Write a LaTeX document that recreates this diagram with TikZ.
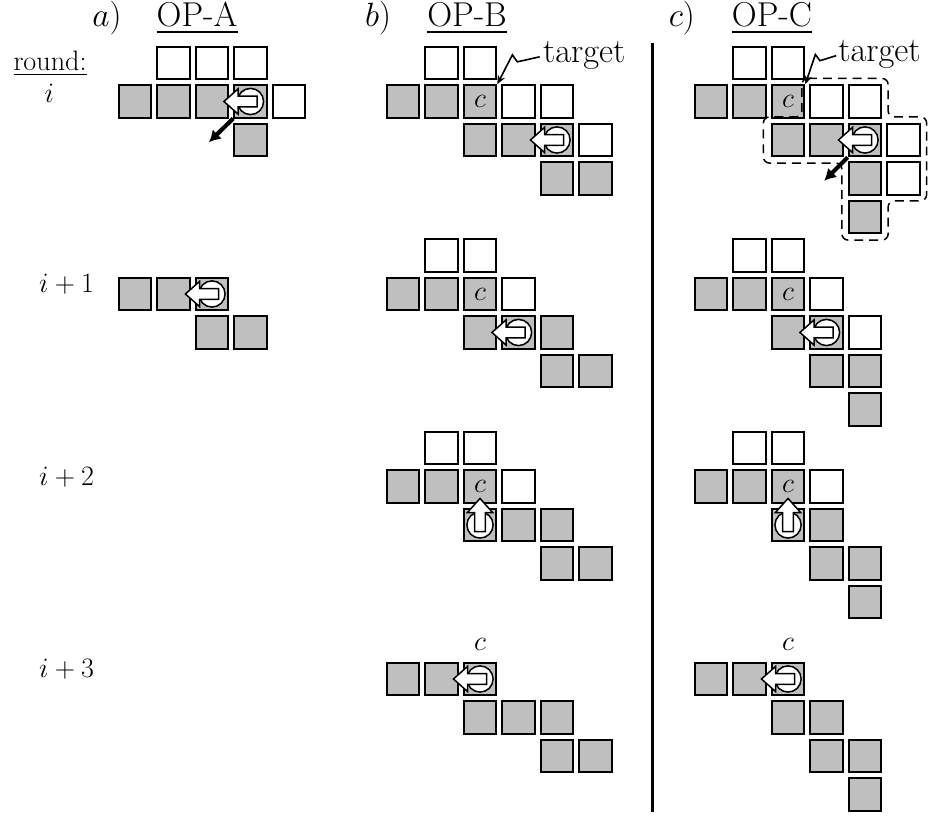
\documentclass[tikz,border=0pt]{standalone}
\usepackage{amsmath, amssymb}
\usepackage{fontspec}
\usepackage[dvipsnames]{xcolor}
\usepackage{tikz}
\usetikzlibrary{positioning, arrows.meta}

\tikzset{robot/.pic={
    \draw[line width=1.1pt, fill=white] (0,0) circle (0.34);
    \draw[line width=1.1pt, fill=white, line join=miter] (0.17,0.14) -- (-0.32,0.14) -- (-0.32,0.33) -- (-0.69,0) -- (-0.32,-0.33) -- (-0.32,-0.14) -- (0.17,-0.14) -- cycle;
}}

\begin{document}
\begin{tikzpicture}[cellw/.style={rectangle, draw=black, fill=white, line width=1.4pt, minimum size=0.85cm, inner sep=0pt, font=\fontsize{22}{26}\selectfont}, cellg/.style={cellw, fill=black!25}, head/.style={font=\fontsize{25.5}{30}\selectfont, inner sep=0pt, anchor=base}, roundlbl/.style={font=\fontsize{20.8}{25}\selectfont, inner sep=0pt, anchor=base}, ctxt/.style={font=\fontsize{22}{26}\selectfont, inner sep=0pt}, movearrow/.style={-{Latex[length=3mm, width=3.4mm]}, line width=3.1pt}, tgtarrow/.style={-{Stealth[length=2.3mm, width=2mm]}, line width=1.2pt}, outline/.style={dash pattern=on 6.6pt off 4.4pt, line width=1.1pt, rounded corners=0.16cm}]

    \useasboundingbox (0,0) rectangle (24.104,-21.195);

    % Headings
    \node[head] (alab)  at (2.78,-0.69)  {$a)$};
    \node[head] (opa)   at (5.12,-0.69)  {\underline{OP-A}};
    \node[head] (blab)  at (9.82,-0.69)  {$b)$};
    \node[head] (opb)   at (12.13,-0.69) {\underline{OP-B}};
    \node[head] (clab)  at (17.71,-0.69) {$c)$};
    \node[head] (opc)   at (20.05,-0.69) {\underline{OP-C}};

    % Rounds
    \node[roundlbl] (roundhead) at (1.30,-1.82) {\underline{round:}};
    \node[roundlbl] (r0) at (1.28,-2.675) {$i$};
    \node[roundlbl, anchor=base west] (r1) at (1.01,-7.61)  {$i+1$};
    \node[roundlbl, anchor=base west] (r2) at (1.01,-12.61) {$i+2$};
    \node[roundlbl, anchor=base west] (r3) at (1.01,-17.61) {$i+3$};

    % OP-A, round i ---------------
    \begin{scope}[shift={(3.506,-1.636)}]
        \foreach \j in {1,2,3} \node[cellw] (a0-0-\j) at (\j,0) {};
        \foreach \j in {0,...,3} \node[cellg] (a0-1-\j) at (\j,-1) {};
        \node[cellw] (a0-1-4) at (4,-1) {};
        \node[cellg] (a0-2-3) at (3,-2) {};
        \coordinate (a0move) at ([shift={(-1.08,-1.06)}]a0-1-3.center);
        \draw[movearrow] (a0-1-3) -- (a0move);
        \pic at (a0-1-3) {robot};
    \end{scope}

    % OP-A, round i+1
    \begin{scope}[shift={(3.506,-6.636)}]
        \foreach \j in {0,1,2} \node[cellg] (a1-1-\j) at (\j,-1) {};
        \foreach \j in {2,3} \node[cellg] (a1-2-\j) at (\j,-2) {};
        \pic at (a1-1-2) {robot};
    \end{scope}

    % OP-B, round i ---------------
    \begin{scope}[shift={(10.468,-1.636)}]
        \foreach \j in {1,2} \node[cellw] (b0-0-\j) at (\j,0) {};
        \foreach \j in {0,1} \node[cellg] (b0-1-\j) at (\j,-1) {};
        \node[cellg] (b0-1-2) at (2,-1) {$c$};
        \foreach \j in {3,4} \node[cellw] (b0-1-\j) at (\j,-1) {};
        \foreach \j in {2,3,4} \node[cellg] (b0-2-\j) at (\j,-2) {};
        \node[cellw] (b0-2-5) at (5,-2) {};
        \foreach \j in {4,5} \node[cellg] (b0-3-\j) at (\j,-3) {};
        \pic at (b0-2-4) {robot};
        \node[head, anchor=base west] (tgtb) at (3.63,0) {target};
        \draw[tgtarrow] ([shift={(-0.08,0.16)}]tgtb.base west) -- ++(-0.58,-0.13) -- ++(-0.13,0.18) -- (b0-1-2.north east);
    \end{scope}

    % OP-B, round i+1
    \begin{scope}[shift={(10.468,-6.636)}]
        \foreach \j in {1,2} \node[cellw] (b1-0-\j) at (\j,0) {};
        \foreach \j in {0,1} \node[cellg] (b1-1-\j) at (\j,-1) {};
        \node[cellg] (b1-1-2) at (2,-1) {$c$};
        \node[cellw] (b1-1-3) at (3,-1) {};
        \foreach \j in {2,3,4} \node[cellg] (b1-2-\j) at (\j,-2) {};
        \foreach \j in {4,5} \node[cellg] (b1-3-\j) at (\j,-3) {};
        \pic at (b1-2-3) {robot};
    \end{scope}

    % OP-B, round i+2
    \begin{scope}[shift={(10.468,-11.636)}]
        \foreach \j in {1,2} \node[cellw] (b2-0-\j) at (\j,0) {};
        \foreach \j in {0,1} \node[cellg] (b2-1-\j) at (\j,-1) {};
        \node[cellg] (b2-1-2) at (2,-1) {$c$};
        \node[cellw] (b2-1-3) at (3,-1) {};
        \foreach \j in {2,3,4} \node[cellg] (b2-2-\j) at (\j,-2) {};
        \foreach \j in {4,5} \node[cellg] (b2-3-\j) at (\j,-3) {};
        \pic[rotate=-90] at (b2-2-2) {robot};
    \end{scope}

    % OP-B, round i+3
    \begin{scope}[shift={(10.468,-16.636)}]
        \node[ctxt] (b3-c) at (2,-0.1) {$c$};
        \foreach \j in {0,1,2} \node[cellg] (b3-1-\j) at (\j,-1) {};
        \foreach \j in {2,3,4} \node[cellg] (b3-2-\j) at (\j,-2) {};
        \foreach \j in {4,5} \node[cellg] (b3-3-\j) at (\j,-3) {};
        \pic at (b3-1-2) {robot};
    \end{scope}

    % Separator
    \draw[line width=2.2pt] (16.96,-1.12) -- (16.96,-21.09);

    % OP-C, round i ---------------
    \begin{scope}[shift={(18.468,-1.636)}]
        \foreach \j in {1,2} \node[cellw] (c0-0-\j) at (\j,0) {};
        \foreach \j in {0,1} \node[cellg] (c0-1-\j) at (\j,-1) {};
        \node[cellg] (c0-1-2) at (2,-1) {$c$};
        \foreach \j in {3,4} \node[cellw] (c0-1-\j) at (\j,-1) {};
        \foreach \j in {2,3,4} \node[cellg] (c0-2-\j) at (\j,-2) {};
        \node[cellw] (c0-2-5) at (5,-2) {};
        \node[cellg] (c0-3-4) at (4,-3) {};
        \node[cellw] (c0-3-5) at (5,-3) {};
        \node[cellg] (c0-4-4) at (4,-4) {};
        \draw[outline] (2.36,-0.40) -- (4.60,-0.40) -- (4.60,-1.40) -- (5.60,-1.40) -- (5.60,-3.58) -- (4.60,-3.58) -- (4.60,-4.60) -- (3.40,-4.60) -- (3.40,-2.60) -- (1.36,-2.60) -- (1.36,-1.40) -- (2.36,-1.40) -- cycle;
        \coordinate (c0move) at ([shift={(-1.06,-1.06)}]c0-2-4.center);
        \draw[movearrow] (c0-2-4) -- (c0move);
        \pic at (c0-2-4) {robot};
        \node[head, anchor=base west] (tgtc) at (3.30,0.03) {target};
        \draw[tgtarrow] ([shift={(-0.05,0.16)}]tgtc.base west) -- ++(-0.42,-0.13) -- ++(-0.12,0.16) -- (c0-1-2.north east);
    \end{scope}

    % OP-C, round i+1
    \begin{scope}[shift={(18.468,-6.636)}]
        \foreach \j in {1,2} \node[cellw] (c1-0-\j) at (\j,0) {};
        \foreach \j in {0,1} \node[cellg] (c1-1-\j) at (\j,-1) {};
        \node[cellg] (c1-1-2) at (2,-1) {$c$};
        \node[cellw] (c1-1-3) at (3,-1) {};
        \foreach \j in {2,3} \node[cellg] (c1-2-\j) at (\j,-2) {};
        \node[cellw] (c1-2-4) at (4,-2) {};
        \foreach \j in {3,4} \node[cellg] (c1-3-\j) at (\j,-3) {};
        \node[cellg] (c1-4-4) at (4,-4) {};
        \pic at (c1-2-3) {robot};
    \end{scope}

    % OP-C, round i+2
    \begin{scope}[shift={(18.468,-11.636)}]
        \foreach \j in {1,2} \node[cellw] (c2-0-\j) at (\j,0) {};
        \foreach \j in {0,1} \node[cellg] (c2-1-\j) at (\j,-1) {};
        \node[cellg] (c2-1-2) at (2,-1) {$c$};
        \node[cellw] (c2-1-3) at (3,-1) {};
        \foreach \j in {2,3} \node[cellg] (c2-2-\j) at (\j,-2) {};
        \foreach \j in {3,4} \node[cellg] (c2-3-\j) at (\j,-3) {};
        \node[cellg] (c2-4-4) at (4,-4) {};
        \pic[rotate=-90] at (c2-2-2) {robot};
    \end{scope}

    % OP-C, round i+3
    \begin{scope}[shift={(18.468,-16.636)}]
        \node[ctxt] (c3-c) at (2,-0.1) {$c$};
        \foreach \j in {0,1,2} \node[cellg] (c3-1-\j) at (\j,-1) {};
        \foreach \j in {2,3} \node[cellg] (c3-2-\j) at (\j,-2) {};
        \foreach \j in {3,4} \node[cellg] (c3-3-\j) at (\j,-3) {};
        \node[cellg] (c3-4-4) at (4,-4) {};
        \pic at (c3-1-2) {robot};
    \end{scope}

\end{tikzpicture}
\end{document}
